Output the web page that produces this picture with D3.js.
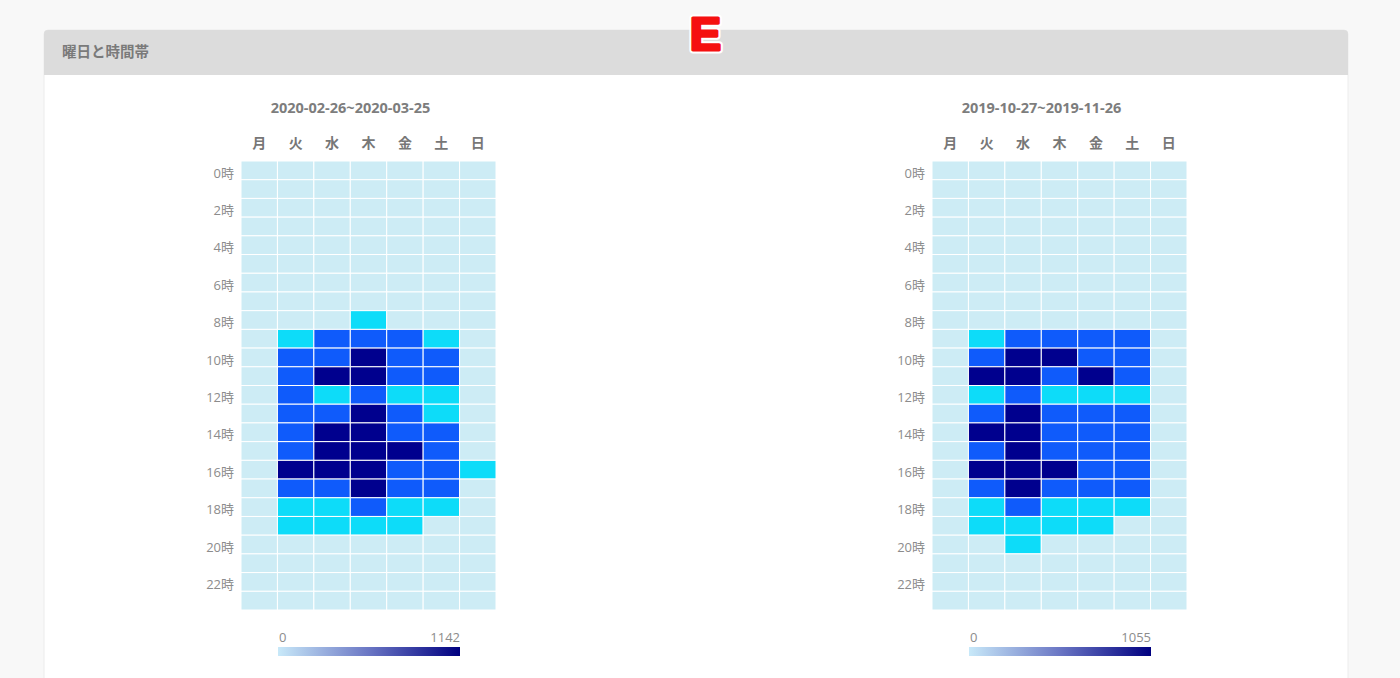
<!DOCTYPE html>
<html>
<head>
<meta charset="utf-8">
<script src="https://cdn.jsdelivr.net/npm/d3@7"></script>
<style>
  body { margin: 0; background: #f8f8f8; }
  svg { display: block; font-family: "Open Sans", "Noto Sans CJK JP", sans-serif; }
</style>
</head>
<body>
<div class="chart"></div>
<script>
const days = ['月', '火', '水', '木', '金', '土', '日'];
const hours = d3.range(24);
const hourTicks = [0, 2, 4, 6, 8, 10, 12, 14, 16, 18, 20, 22];

const rangeA = '2020-02-26~2020-03-25';
const maxA = 1142;
const valuesA = [
  [3, 5, 2, 4, 6, 1, 0],
  [1, 2, 0, 3, 1, 0, 0],
  [0, 1, 0, 0, 2, 0, 0],
  [0, 0, 1, 0, 0, 0, 0],
  [0, 0, 0, 1, 0, 0, 0],
  [0, 2, 1, 0, 3, 0, 0],
  [2, 8, 6, 12, 9, 3, 0],
  [10, 54, 62, 98, 71, 35, 4],
  [18, 196, 183, 276, 201, 162, 9],
  [35, 402, 612, 698, 655, 389, 22],
  [41, 705, 771, 1012, 748, 690, 30],
  [38, 684, 934, 1142, 802, 731, 27],
  [29, 563, 447, 620, 468, 421, 19],
  [44, 719, 758, 963, 706, 493, 33],
  [47, 776, 988, 1087, 812, 697, 36],
  [43, 745, 1045, 1121, 903, 739, 41],
  [52, 921, 1063, 1098, 787, 764, 248],
  [40, 652, 703, 946, 698, 611, 25],
  [31, 388, 452, 587, 413, 374, 18],
  [20, 297, 341, 362, 305, 174, 12],
  [12, 143, 161, 188, 150, 92, 8],
  [8, 61, 72, 84, 66, 40, 5],
  [6, 24, 31, 37, 28, 15, 3],
  [4, 10, 13, 15, 11, 6, 1]
];

const rangeB = '2019-10-27~2019-11-26';
const maxB = 1055;
const valuesB = [
  [2, 4, 3, 5, 4, 1, 0],
  [1, 1, 0, 2, 1, 0, 0],
  [0, 0, 1, 0, 1, 0, 0],
  [0, 0, 0, 0, 0, 1, 0],
  [0, 1, 0, 0, 0, 0, 0],
  [0, 1, 2, 1, 2, 0, 0],
  [1, 7, 9, 8, 6, 2, 0],
  [8, 49, 58, 61, 52, 40, 3],
  [15, 168, 179, 172, 160, 149, 8],
  [30, 352, 603, 641, 597, 588, 20],
  [36, 702, 918, 887, 664, 651, 26],
  [33, 846, 953, 731, 872, 695, 24],
  [25, 418, 569, 402, 387, 371, 17],
  [39, 688, 972, 712, 659, 643, 29],
  [42, 903, 1055, 738, 701, 676, 32],
  [40, 706, 1012, 725, 689, 662, 35],
  [46, 871, 1031, 854, 716, 694, 38],
  [37, 634, 948, 667, 640, 618, 27],
  [28, 376, 561, 392, 366, 344, 16],
  [18, 284, 309, 296, 263, 163, 11],
  [11, 152, 238, 171, 139, 87, 7],
  [7, 58, 83, 69, 60, 37, 4],
  [5, 22, 30, 26, 21, 13, 2],
  [3, 9, 12, 10, 8, 5, 1]
];

const w = 1400;
const h = 678;
const cellColors = ['#cdecf5', '#0ddcf9', '#0f5bfb', '#00008e'];

const svg = d3.select('.chart')
  .append('svg')
  .attr('width', w)
  .attr('height', h);

// card
svg.append('rect')
  .attr('x', 44).attr('y', 30)
  .attr('width', 1304).attr('height', h - 30 + 10)
  .attr('rx', 4)
  .attr('fill', '#fff')
  .attr('stroke', '#ececec');
svg.append('path')
  .attr('d', 'M44,75 V34 a4,4 0 0 1 4,-4 H1344 a4,4 0 0 1 4,4 V75 Z')
  .attr('fill', '#dcdcdc');
svg.append('text')
  .attr('x', 62).attr('y', 57)
  .attr('font-family', '"Noto Sans CJK JP", sans-serif')
  .attr('font-size', 14.5)
  .attr('font-weight', 'bold')
  .attr('fill', '#7a7a7a')
  .text('曜日と時間帯');

// red marker
svg.append('text')
  .attr('x', 705.5).attr('y', 50)
  .attr('text-anchor', 'middle')
  .attr('font-family', '"Liberation Sans", Arial, sans-serif')
  .attr('font-size', 47)
  .attr('font-weight', 'bold')
  .attr('fill', '#f51010')
  .attr('stroke', '#fff')
  .attr('stroke-width', 7)
  .attr('stroke-linejoin', 'round')
  .text('E');
svg.append('text')
  .attr('x', 705.5).attr('y', 50)
  .attr('text-anchor', 'middle')
  .attr('font-family', '"Liberation Sans", Arial, sans-serif')
  .attr('font-size', 47)
  .attr('font-weight', 'bold')
  .attr('fill', '#f51010')
  .attr('stroke', '#f51010')
  .attr('stroke-width', 3)
  .attr('stroke-linejoin', 'round')
  .text('E');

function drawHeatmap(left, title, values, max) {
  const top = 161;
  const gw = 255;
  const gh = 449;

  const xScale = d3.scaleBand().domain(days).range([left, left + gw]);
  const yScale = d3.scaleBand().domain(hours).range([top, top + gh]);
  const color = d3.scaleThreshold()
    .domain([max * 0.2, max * 0.45, max * 0.75])
    .range(cellColors);

  const g = svg.append('g');

  g.append('text')
    .attr('x', left + gw / 2 - 18)
    .attr('y', 113)
    .attr('text-anchor', 'middle')
    .attr('font-size', 14.5)
    .attr('font-weight', 'bold')
    .attr('fill', '#7d7d7d')
    .text(title);

  const cells = [];
  values.forEach((row, hi) => row.forEach((v, di) => cells.push({ hour: hi, day: days[di], v })));

  g.selectAll('rect.cell')
    .data(cells)
    .enter()
    .append('rect')
    .attr('class', 'cell')
    .attr('x', d => xScale(d.day))
    .attr('y', d => yScale(d.hour))
    .attr('width', xScale.bandwidth())
    .attr('height', yScale.bandwidth())
    .attr('fill', d => color(d.v))
    .attr('stroke', '#fff')
    .attr('stroke-width', 1);

  const xAxis = g.append('g')
    .attr('transform', `translate(0, ${top - 13})`)
    .call(d3.axisTop(xScale).tickSize(0).tickPadding(0));
  xAxis.select('.domain').remove();
  xAxis.selectAll('text')
    .attr('font-family', '"Noto Sans CJK JP", sans-serif')
    .attr('font-size', 14)
    .attr('font-weight', 'bold')
    .attr('fill', '#777');

  const yAxis = g.append('g')
    .attr('transform', `translate(${left - 7}, 0)`)
    .call(d3.axisLeft(yScale).tickValues(hourTicks).tickSize(0).tickPadding(0).tickFormat(d => d + '時'));
  yAxis.select('.domain').remove();
  yAxis.selectAll('text')
    .attr('font-family', '"Open Sans", "Noto Sans CJK JP", sans-serif')
    .attr('font-size', 13)
    .attr('dy', '0.55em')
    .attr('fill', '#8c8c8c');

  // legend
  const lx = left + 37;
  const lw = 182;
  const gradId = 'grad' + left;
  const grad = svg.append('defs').append('linearGradient').attr('id', gradId);
  grad.append('stop').attr('offset', '0%').attr('stop-color', '#c8e9f9');
  grad.append('stop').attr('offset', '50%').attr('stop-color', '#6a76c4');
  grad.append('stop').attr('offset', '100%').attr('stop-color', '#000080');

  const legendScale = d3.scaleLinear().domain([0, max]).range([lx, lx + lw]);
  g.append('rect')
    .attr('x', legendScale(0))
    .attr('y', 647)
    .attr('width', legendScale(max) - legendScale(0))
    .attr('height', 9)
    .attr('fill', `url(#${gradId})`);
  g.selectAll('text.leg')
    .data([0, max])
    .enter()
    .append('text')
    .attr('class', 'leg')
    .attr('x', d => legendScale(d) + (d === 0 ? 1 : 0))
    .attr('y', 642)
    .attr('text-anchor', d => d === 0 ? 'start' : 'end')
    .attr('font-size', 13)
    .attr('fill', '#8c8c8c')
    .text(d => d);
}

drawHeatmap(241, rangeA, valuesA, maxA);
drawHeatmap(932, rangeB, valuesB, maxB);
</script>
</body>
</html>
